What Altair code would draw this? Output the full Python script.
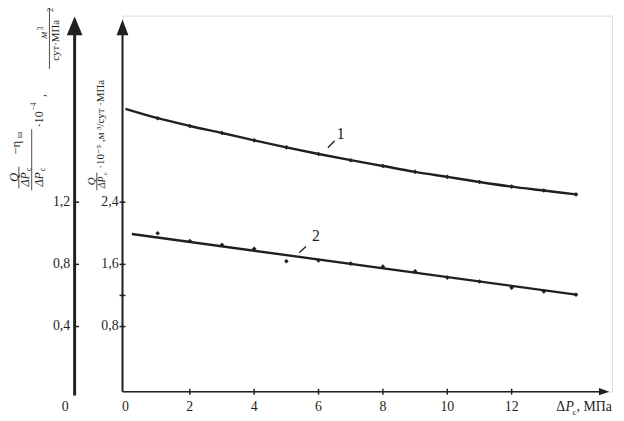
import altair as alt
import pandas as pd

# ---------------- data ----------------
curve1_x = [0, 1, 2, 3, 4, 5, 6, 7, 8, 9, 10, 11, 12, 13, 14]
curve1_y = [3.60, 3.48, 3.38, 3.29, 3.195, 3.105, 3.02, 2.94, 2.865, 2.79, 2.725, 2.66, 2.60, 2.55, 2.50]
pts_x = [1, 2, 3, 4, 5, 6, 7, 8, 9, 10, 11, 12, 13, 14]
pts1_y = [3.48, 3.38, 3.29, 3.195, 3.105, 3.02, 2.94, 2.865, 2.79, 2.725, 2.66, 2.60, 2.55, 2.50]
pts2_y = [2.00, 1.90, 1.85, 1.80, 1.64, 1.65, 1.61, 1.57, 1.51, 1.43, 1.38, 1.30, 1.25, 1.21]
fit2_x = [0.2, 14]
fit2_y = [1.99, 1.21]

x_ticks = [2, 4, 6, 8, 10, 12]
x_labels = ["0", "2", "4", "6", "8", "10", "12"]
x_label_vals = [0, 2, 4, 6, 8, 10, 12]
y_ticks_inner = [0.8, 1.2, 1.6, 2.4]
y_labels_inner = ["0,8", "", "1,6", "2,4"]
y_ticks_outer = [0.4, 0.8, 1.2]          # outer axis = inner / 2
y_labels_outer = ["0,4", "0,8", "1,2"]

curve_names = ["1", "2"]
name_x = [6.69, 5.92]
name_y = [3.28, 1.97]
lead_x1 = [6.29, 5.40]
lead_y1 = [3.10, 1.75]
lead_x2 = [6.50, 5.61]
lead_y2 = [3.19, 1.83]

# ---------------- layout ----------------
INK = "#231f20"
SERIF = "'Liberation Serif', 'Times New Roman', Times, 'DejaVu Serif', serif"
VX0, VY0 = 124, 13          # page position of the view origin
W, H = 496, 381
xs = alt.Scale(domain=[-0.092, 15.12], nice=False, zero=False)
ys = alt.Scale(domain=[-0.038, 4.8], nice=False, zero=False)
one = pd.DataFrame({"k": [0]})


def vx(px):
    return px - VX0


def vy(py):
    return py - VY0


def txt(s, px, py, size=13, italic=False, angle=0, align="center", baseline="middle"):
    return alt.Chart(one).mark_text(
        text=s, fontSize=size, font=SERIF, fontStyle="italic" if italic else "normal",
        angle=angle, align=align, baseline=baseline, color=INK
    ).encode(x=alt.value(vx(px)), y=alt.value(vy(py)))


def rule(px1, py1, px2, py2, w=1.0):
    return alt.Chart(one).mark_rule(strokeWidth=w, color=INK).encode(
        x=alt.value(vx(px1)), y=alt.value(vy(py1)),
        x2=alt.value(vx(px2)), y2=alt.value(vy(py2)))


def arrow(px, py, path, size):
    return alt.Chart(one).mark_point(shape=path, filled=True, size=size, color=INK, opacity=1,
                                     strokeWidth=0).encode(x=alt.value(vx(px)), y=alt.value(vy(py)))


layers = []

# curves
c1 = pd.DataFrame({"x": curve1_x, "y": curve1_y})
layers.append(alt.Chart(c1).mark_line(color=INK, strokeWidth=2.4, interpolate="monotone").encode(
    x=alt.X("x:Q", scale=xs, axis=None), y=alt.Y("y:Q", scale=ys, axis=None)))
f2 = pd.DataFrame({"x": fit2_x, "y": fit2_y})
layers.append(alt.Chart(f2).mark_line(color=INK, strokeWidth=2.4).encode(
    x=alt.X("x:Q", scale=xs), y=alt.Y("y:Q", scale=ys)))
p = pd.DataFrame({"x": pts_x + pts_x, "y": pts1_y + pts2_y})
layers.append(alt.Chart(p).mark_point(shape="diamond", filled=True, size=22, color=INK, opacity=1).encode(
    x=alt.X("x:Q", scale=xs), y=alt.Y("y:Q", scale=ys)))

# curve names + leader lines
nm = pd.DataFrame({"t": curve_names, "x": name_x, "y": name_y,
                   "x1": lead_x1, "y1": lead_y1, "x2": lead_x2, "y2": lead_y2})
layers.append(alt.Chart(nm).mark_text(font=SERIF, fontSize=16, color=INK).encode(
    x=alt.X("x:Q", scale=xs), y=alt.Y("y:Q", scale=ys), text="t:N"))
layers.append(alt.Chart(nm).mark_rule(color=INK, strokeWidth=1.3).encode(
    x=alt.X("x1:Q", scale=xs), y=alt.Y("y1:Q", scale=ys), x2="x2:Q", y2="y2:Q"))

# x axis
layers.append(rule(124, 394, 612, 394, 1.5))
layers.append(arrow(612, 394, "M1,0L-1,-0.7L-1,0.7Z", 110))
xt = pd.DataFrame({"x": x_ticks})
layers.append(alt.Chart(xt).mark_rule(color=INK, strokeWidth=1.5).encode(
    x=alt.X("x:Q", scale=xs), y=alt.value(vy(391)), y2=alt.value(vy(397))))
xl = pd.DataFrame({"x": x_label_vals, "t": x_labels})
layers.append(alt.Chart(xl).mark_text(font=SERIF, fontSize=14, color=INK, baseline="middle").encode(
    x=alt.X("x:Q", scale=xs), y=alt.value(vy(410)), text="t:N"))
layers.append(txt("Δ", 568, 410, 14))
layers.append(txt("P", 577, 410, 14, italic=True))
layers.append(txt("с", 582, 415, 9))
layers.append(txt(", МПа", 584, 410, 14, align="left"))

# inner y axis
layers.append(rule(124, 394, 124, 31, 2))
layers.append(arrow(124, 25, "M0,-1L0.75,1L-0.75,1Z", 256))
yt = pd.DataFrame({"y": y_ticks_inner, "t": y_labels_inner})
layers.append(alt.Chart(yt).mark_rule(color=INK, strokeWidth=1.5).encode(
    y=alt.Y("y:Q", scale=ys), x=alt.value(vx(121)), x2=alt.value(vx(127))))
layers.append(alt.Chart(yt).mark_text(font=SERIF, fontSize=14, color=INK, align="right", baseline="middle").encode(
    y=alt.Y("y:Q", scale=ys), x=alt.value(vx(120)), text="t:N"))

# outer y axis
layers.append(rule(75.5, 398, 75.5, 31, 3))
layers.append(arrow(75.5, 23.5, "M0,-1L0.84,1L-0.84,1Z", 361))
yo = pd.DataFrame({"v": y_ticks_outer, "t": y_labels_outer})
layers.append(alt.Chart(yo).transform_calculate(y="datum.v * 2").mark_rule(color=INK, strokeWidth=1.5).encode(
    y=alt.Y("y:Q", scale=ys), x=alt.value(vx(75)), x2=alt.value(vx(80))))
layers.append(alt.Chart(yo).transform_calculate(y="datum.v * 2").mark_text(
    font=SERIF, fontSize=14, color=INK, align="right", baseline="middle").encode(
    y=alt.Y("y:Q", scale=ys), x=alt.value(vx(71)), text="t:N"))
layers.append(txt("0", 66, 410, 14))

# outer axis title (rotated fraction)
R = 270
layers.append(txt("Q", 14, 177, 13, italic=True, angle=R))
layers.append(rule(19, 166, 19, 188, 0.8))
layers.append(txt("ΔP", 25, 179, 12, italic=True, angle=R))
layers.append(txt("с", 29, 169, 8, angle=R))
layers.append(txt("−η", 16, 147, 13, angle=R))
layers.append(txt("ш", 20, 134, 8, angle=R))
layers.append(rule(32, 128, 32, 190, 0.8))
layers.append(txt("ΔP", 39, 179, 12, italic=True, angle=R))
layers.append(txt("с", 43, 169, 8, angle=R))
layers.append(txt("·10", 39, 118, 12, angle=R))
layers.append(txt("−4", 34, 105, 8, angle=R))
layers.append(txt(",", 41, 94, 12, angle=R))
layers.append(txt("м", 45, 33, 11, italic=True, angle=R))
layers.append(txt("3", 41, 26, 8, angle=R))
layers.append(rule(50, 2, 50, 67, 0.8))
layers.append(txt("сут·МПа", 57, 38, 11, angle=R))
layers.append(txt("2", 52, 7, 8, angle=R))

# inner axis title
layers.append(txt("Q", 93, 181, 11, italic=True, angle=R))
layers.append(rule(98, 172, 98, 190, 0.8))
layers.append(txt("ΔP", 103, 182, 10, italic=True, angle=R))
layers.append(txt("с", 106, 173, 7, angle=R))
layers.append(txt("·10⁻⁵ ,м ³/сут ·МПа", 102, 168, 11, angle=R, align="left"))

chart = alt.layer(*layers).properties(
    width=W, height=H,
    autosize=alt.AutoSizeParams(type="none"),
    padding={"left": VX0 - 8, "top": VY0 - 8, "right": 616 - (VX0 - 8) - W, "bottom": 413 - (VY0 - 8) - H},
).configure_view(stroke=None).configure(background="white")

chart.save("out.html", embed_options={"renderer": "svg", "actions": False})
